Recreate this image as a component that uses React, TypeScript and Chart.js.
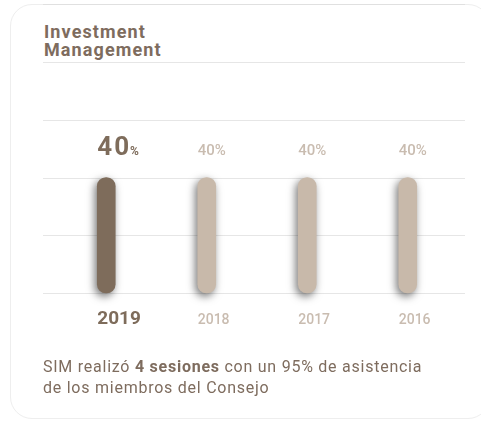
import React, { useEffect, useRef } from "react";
import { Chart, registerables } from "chart.js";

Chart.register(...registerables);

const categories = ["2019", "2018", "2017", "2016"];
const values = [40, 40, 40, 40];
const valueLabels = ["40", "40%", "40%", "40%"];
const gridValues = [0, 20, 40, 60, 80];
const highlightIndex = 0;

const DARK = "#7e6c5b";
const LIGHT = "#c8b9aa";
const LIGHT_TEXT = "#c9bcb0";
const FONT = "Roboto, 'Open Sans', sans-serif";

export default function App() {
  const ref = useRef<HTMLCanvasElement | null>(null);

  useEffect(() => {
    if (!ref.current) return;

    const gridPlugin = {
      id: "extGrid",
      beforeDatasetsDraw(chart: any) {
        const { ctx, scales, chartArea } = chart;
        ctx.save();
        ctx.strokeStyle = "#e6e6e6";
        ctx.lineWidth = 1;
        gridValues.forEach((v) => {
          const y = Math.round(scales.y.getPixelForValue(v)) + 0.5;
          ctx.beginPath();
          ctx.moveTo(chartArea.left - 13, y);
          ctx.lineTo(chartArea.right + 7, y);
          ctx.stroke();
        });
        ctx.restore();
        ctx.save();
        ctx.shadowColor = "rgba(0,0,0,0.55)";
        ctx.shadowBlur = 9;
        ctx.shadowOffsetX = -2;
        ctx.shadowOffsetY = 3;
      },
      afterDatasetsDraw(chart: any) {
        const { ctx } = chart;
        ctx.restore();
        const meta = chart.getDatasetMeta(0);
        const bottom = chart.chartArea.bottom;
        meta.data.forEach((bar: any, i: number) => {
          const left = bar.x - bar.width / 2;
          ctx.save();
          ctx.textAlign = "left";
          ctx.textBaseline = "alphabetic";
          if (i === highlightIndex) {
            ctx.fillStyle = DARK;
            ctx.font = `bold 26px ${FONT}`;
            (ctx as any).letterSpacing = "2px";
            ctx.fillText(valueLabels[i], left, bar.y - 23);
            const w = ctx.measureText(valueLabels[i]).width;
            (ctx as any).letterSpacing = "0px";
            ctx.font = `bold 12px ${FONT}`;
            ctx.fillText("%", left + w - 1, bar.y - 23);
            ctx.font = `bold 19px ${FONT}`;
            ctx.fillText(categories[i], left, bottom + 31);
          } else {
            ctx.fillStyle = LIGHT_TEXT;
            ctx.font = `500 15px ${FONT}`;
            ctx.fillText(valueLabels[i], left, bar.y - 23);
            ctx.font = `500 14px ${FONT}`;
            ctx.fillText(categories[i], left, bottom + 31);
          }
          ctx.restore();
        });
      },
    };

    const chart = new Chart(ref.current, {
      type: "bar",
      data: {
        labels: categories,
        datasets: [
          {
            data: values,
            backgroundColor: values.map((_, i) => (i === highlightIndex ? DARK : LIGHT)),
            barThickness: 18,
            borderRadius: 9,
            borderSkipped: false,
            clip: false as any,
          },
        ],
      },
      options: {
        animation: false,
        responsive: false,
        maintainAspectRatio: false,
        layout: { padding: { left: 56, right: 23, top: 62, bottom: 129 } },
        plugins: { legend: { display: false }, tooltip: { enabled: false }, title: { display: false } },
        scales: {
          x: { display: false },
          y: { display: false, min: 0, max: 80, ticks: { stepSize: 20 } },
        },
      },
      plugins: [gridPlugin],
    });
    return () => chart.destroy();
  }, []);

  return (
    <div style={{ position: "absolute", left: 0, top: 0, width: 481, height: 422, overflow: "hidden", background: "#fff", fontFamily: FONT }}>
      <div style={{ position: "absolute", left: 10, top: 4, width: 480, height: 415, border: "1px solid #eeeeee", borderRadius: 22, boxSizing: "border-box" }} />
      <div style={{ position: "absolute", left: 43, top: 4, width: 422, height: 1, background: "#e0e0e0" }} />
      <div style={{ position: "absolute", left: 44, top: 23, fontSize: 18, lineHeight: "17.6px", fontWeight: 700, color: "#7e6c5e", letterSpacing: "1.1px" }}>
        Investment
        <br />
        Management
      </div>
      <canvas ref={ref} width={481} height={422} style={{ position: "absolute", left: 0, top: 0, width: 481, height: 422 }} />
      <div style={{ position: "absolute", left: 43, top: 356, fontSize: 16, lineHeight: "21px", color: "#7e6c5e", whiteSpace: "nowrap", letterSpacing: "0.75px" }}>
        SIM realizó <b>4 sesiones</b> con un 95% de asistencia
        <br />
        de los miembros del Consejo
      </div>
    </div>
  );
}
